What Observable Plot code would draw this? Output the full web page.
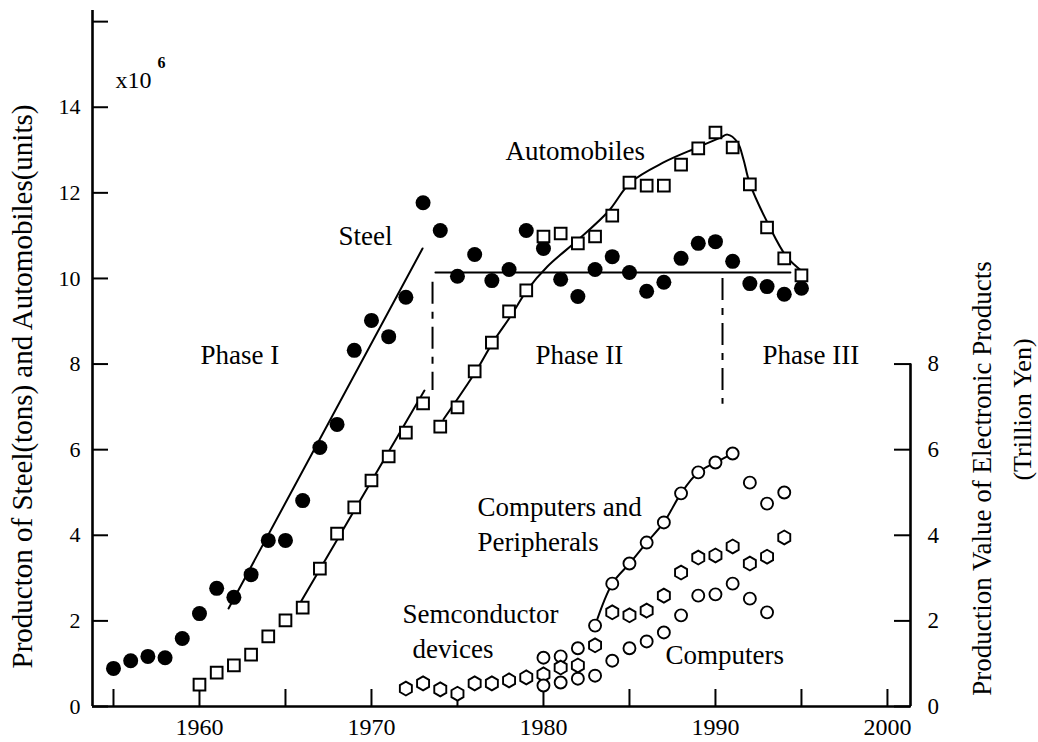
<!DOCTYPE html>
<html>
<head>
<meta charset="utf-8">
<script src="https://cdn.jsdelivr.net/npm/d3@7"></script>
<script src="https://cdn.jsdelivr.net/npm/@observablehq/plot@0.6"></script>
<style>
  html, body { margin: 0; padding: 0; background: #fff; overflow: hidden; }
  svg { display: block; }
  svg text { font-family: "Liberation Serif", "Times New Roman", serif; }
</style>
</head>
<body>
<div id="chart"></div>
<script>
// ---- Data ----
const xDomain = [1953.78, 2001.34];
const yDomain = [0, 16.26];

const steelYears = [1955,1956,1957,1958,1959,1960,1961,1962,1963,1964,1965,1966,1967,1968,1969,1970,1971,1972,1973,1974,1975,1976,1977,1978,1979,1980,1981,1982,1983,1984,1985,1986,1987,1988,1989,1990,1991,1992,1993,1994,1995];
const steelValues = [0.89,1.07,1.17,1.14,1.59,2.17,2.76,2.55,3.08,3.88,3.88,4.81,6.05,6.59,8.32,9.02,8.64,9.56,11.77,11.12,10.05,10.56,9.95,10.21,11.12,10.70,9.98,9.58,10.21,10.51,10.14,9.70,9.91,10.47,10.82,10.86,10.40,9.88,9.81,9.63,9.77];

const autoYears = [1960,1961,1962,1963,1964,1965,1966,1967,1968,1969,1970,1971,1972,1973,1974,1975,1976,1977,1978,1979,1980,1981,1982,1983,1984,1985,1986,1987,1988,1989,1990,1991,1992,1993,1994,1995];
const autoValues = [0.51,0.79,0.96,1.21,1.64,2.01,2.31,3.22,4.04,4.65,5.28,5.84,6.40,7.08,6.54,6.99,7.83,8.50,9.23,9.72,10.98,11.05,10.82,10.98,11.47,12.24,12.17,12.17,12.66,13.04,13.41,13.06,12.20,11.19,10.47,10.07];

const cpYears = [1980,1981,1982,1983,1984,1985,1986,1987,1988,1989,1990,1991,1992,1993,1994];
const cpValues = [1.14,1.17,1.36,1.89,2.87,3.34,3.83,4.30,4.98,5.47,5.70,5.91,5.23,4.74,5.00];

const semiYears = [1972,1973,1974,1975,1976,1977,1978,1979,1980,1981,1982,1983,1984,1985,1986,1987,1988,1989,1990,1991,1992,1993,1994];
const semiValues = [0.42,0.54,0.40,0.30,0.54,0.54,0.61,0.68,0.75,0.91,0.96,1.43,2.20,2.13,2.24,2.59,3.13,3.48,3.53,3.74,3.34,3.50,3.95];

const compYears = [1980,1981,1982,1983,1984,1985,1986,1987,1988,1989,1990,1991,1992,1993];
const compValues = [0.49,0.56,0.65,0.72,1.07,1.36,1.52,1.73,2.13,2.59,2.62,2.87,2.52,2.20];

// Trend lines drawn in the reference
const steelFitYears = [1961.69, 1972.97];
const steelFitValues = [2.29, 10.70];
const autoFitYears = [1965.87, 1973.08];
const autoFitValues = [2.43, 7.38];
const autoCurveYears = [1974.19,1976.10,1977.09,1978.08,1979.07,1980.23,1982.03,1983.78,1985.06,1986.98,1988.95,1990.29,1990.70,1991.28,1991.63,1991.98,1993.08,1994.13,1995.12];
const autoCurveValues = [6.71,7.85,8.53,9.11,9.74,10.28,10.91,11.57,12.24,12.71,13.06,13.29,13.36,13.18,12.78,12.24,11.26,10.51,10.14];
const plateauYears = [1973.72, 1994.36];
const plateauValues = [10.14, 10.14];
const cpFitFrom = 1983, cpFitTo = 1991;

// Phase dividers (dash-dot)
const dividerYears = [1973.55, 1990.41];
const dividerTops = [9.91, 10.00];
const dividerBottoms = [7.38, 7.06];

// Axes
const leftTicks = [0,2,4,6,8,10,12,14,16];
const leftTickLabels = [0,2,4,6,8,10,12,14];
const rightTicks = [0,2,4,6,8];
const xTicks = [1955,1960,1965,1970,1975,1980,1985,1990,1995,2000];
const xTickLabels = [1960,1970,1980,1990,2000];

const yTitle = "Producton of Steel(tons) and Automobiles(units)";
const rightTitle = "Production Value of Electronic Products";
const rightTitle2 = "(Trillion Yen)";

// Annotations: [text, year, value]
const labelTexts = ["Steel","Automobiles","Phase I","Phase II","Phase III","Computers and","Peripherals","Semconductor","devices","Computers"];
const labelYears = [1968.08,1977.79,1960.06,1979.54,1992.74,1976.16,1976.16,1971.80,1972.39,1987.10];
const labelValues = [10.77,12.76,8.01,8.01,8.01,4.46,3.64,1.94,1.14,1.00];
const unitText = "x10", unitYear = 1955.12, unitValue = 14.44;
const expText = "6", expYear = 1957.56, expValue = 14.91;

// ---- Tables ----
const zip = (xs, ys) => xs.map((x, i) => ({x, y: ys[i]}));
const steel = zip(steelYears, steelValues);
const autos = zip(autoYears, autoValues);
const cp = zip(cpYears, cpValues);
const semi = zip(semiYears, semiValues);
const comp = zip(compYears, compValues);
const steelFit = zip(steelFitYears, steelFitValues);
const autoFit = zip(autoFitYears, autoFitValues);
const autoCurve = zip(autoCurveYears, autoCurveValues);
const plateau = zip(plateauYears, plateauValues);
const cpFit = cp.filter(d => d.x >= cpFitFrom && d.x <= cpFitTo);
const dividers = dividerYears.map((x, i) => ({x, y1: dividerTops[i], y2: dividerBottoms[i]}));
const labels = labelTexts.map((t, i) => ({t, x: labelYears[i], y: labelValues[i]}));

const serif = "Liberation Serif";

const chart = Plot.plot({
  width: 1038,
  height: 742,
  marginLeft: 92,
  marginRight: 128,
  marginTop: 10,
  marginBottom: 36,
  x: {domain: xDomain},
  y: {domain: yDomain},
  style: {fontFamily: serif, background: "white", color: "black", overflow: "visible"},
  marks: [
    // axis lines
    Plot.ruleX([xDomain[0]], {stroke: "black", strokeWidth: 2.6}),
    Plot.ruleY([0], {stroke: "black", strokeWidth: 2.6}),
    Plot.ruleX([xDomain[1]], {y1: rightTicks[0], y2: rightTicks[rightTicks.length - 1], stroke: "black", strokeWidth: 2.6}),
    // axes (inward ticks)
    Plot.axisY(leftTicks, {anchor: "left", tickSize: -16, tickPadding: 28, strokeWidth: 2,
      tickFormat: d => leftTickLabels.includes(d) ? String(d) : "", fontSize: 22, fontFamily: serif, label: null}),
    Plot.axisY(rightTicks, {anchor: "right", tickSize: -17, tickPadding: 34, strokeWidth: 2,
      tickFormat: d => String(d), fontSize: 23, fontFamily: serif, label: null}),
    Plot.axisX(xTicks, {anchor: "bottom", tickSize: -17, tickPadding: 28, strokeWidth: 2,
      tickFormat: d => xTickLabels.includes(d) ? String(d) : "", fontSize: 24, fontFamily: serif, label: null}),
    // titles
    Plot.text([yTitle], {frameAnchor: "left", dx: -70, dy: 28, rotate: -90, textAnchor: "middle", lineAnchor: "middle", fontSize: 29, fontFamily: serif, fill: "black"}),
    Plot.text([rightTitle], {frameAnchor: "right", dx: 72, dy: 120, rotate: -90, textAnchor: "middle", lineAnchor: "middle", fontSize: 27, fontFamily: serif, fill: "black"}),
    Plot.text([rightTitle2], {frameAnchor: "right", dx: 112, dy: 51, rotate: -90, textAnchor: "middle", lineAnchor: "middle", fontSize: 26, fontFamily: serif, fill: "black"}),
    // trend lines
    Plot.line(steelFit, {x: "x", y: "y", stroke: "black", strokeWidth: 2}),
    Plot.line(autoFit, {x: "x", y: "y", stroke: "black", strokeWidth: 2}),
    Plot.line(autoCurve, {x: "x", y: "y", stroke: "black", strokeWidth: 2, curve: "catmull-rom"}),
    Plot.line(plateau, {x: "x", y: "y", stroke: "black", strokeWidth: 2}),
    Plot.line(cpFit, {x: "x", y: "y", stroke: "black", strokeWidth: 2, curve: "catmull-rom"}),
    Plot.ruleX(dividers, {x: "x", y1: "y1", y2: "y2", stroke: "black", strokeWidth: 2, strokeDasharray: "22,8,7,8"}),
    // data points
    Plot.dot(steel, {x: "x", y: "y", r: 7.5, fill: "black", stroke: "none"}),
    Plot.dot(autos, {x: "x", y: "y", r: 6.6, symbol: "square", fill: "white", stroke: "black", strokeWidth: 2}),
    Plot.dot(cp, {x: "x", y: "y", r: 6, symbol: "circle", fill: "white", stroke: "black", strokeWidth: 1.9}),
    Plot.dot(semi, {x: "x", y: "y", r: 6, symbol: "hexagon", fill: "white", stroke: "black", strokeWidth: 1.9}),
    Plot.dot(comp, {x: "x", y: "y", r: 6, symbol: "circle", fill: "white", stroke: "black", strokeWidth: 1.9}),
    // annotations
    Plot.text(labels, {x: "x", y: "y", text: "t", textAnchor: "start", lineAnchor: "bottom", fontSize: 27, fontFamily: serif, fill: "black"}),
    Plot.text([unitText], {x: () => unitYear, y: () => unitValue, textAnchor: "start", lineAnchor: "bottom", fontSize: 24, fontFamily: serif, fill: "black"}),
    Plot.text([expText], {x: () => expYear, y: () => expValue, textAnchor: "start", lineAnchor: "bottom", fontSize: 16, fontWeight: "bold", fontFamily: "Liberation Sans", fill: "black"})
  ]
});

document.getElementById("chart").appendChild(chart);
</script>
</body>
</html>
